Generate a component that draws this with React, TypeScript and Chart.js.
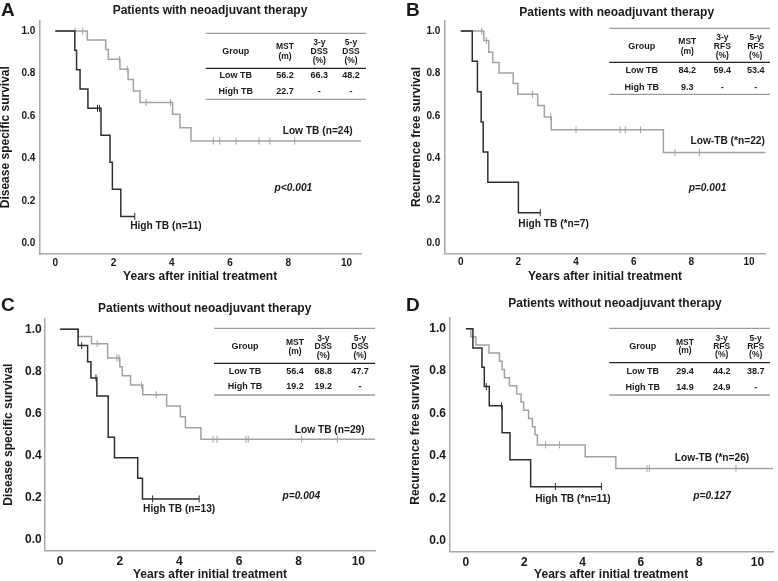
import React, { useEffect, useRef } from 'react';
import { Chart, registerables } from 'chart.js';

Chart.register(...registerables);

const FONT = "Arial, 'Liberation Sans', Helvetica, sans-serif";
const DARK = '#2e2e2e';
const GRAY = '#a2a2a2';
const AXIS = '#a8a8a8';
const TEXT = '#1a1a1a';

const X_TICKS = [0, 2, 4, 6, 8, 10];
const Y_TICKS = [0, 0.2, 0.4, 0.6, 0.8, 1.0];

// ---- Panel A: DSS, with neoadjuvant therapy ----
const A_LOW_T = [0, 1.1, 1.73, 1.82, 2.22, 2.5, 2.68, 2.91, 4.03, 4.28, 4.66, 10.5];
const A_LOW_S = [1, 0.958, 0.913, 0.867, 0.82, 0.772, 0.718, 0.663, 0.608, 0.545, 0.482, 0.482];
const A_LOW_CENSOR = [0.68, 0.94, 2.2, 2.47, 3.12, 3.96, 5.43, 5.65, 6.21, 7.0, 7.37, 8.22];
const A_HIGH_T = [0, 0.67, 0.73, 0.85, 1.12, 1.57, 1.88, 1.96, 2.25, 2.73];
const A_HIGH_S = [1, 0.909, 0.818, 0.727, 0.636, 0.509, 0.382, 0.255, 0.127, 0.127];
const A_HIGH_CENSOR = [1.45, 1.52, 2.73];

// ---- Panel B: RFS, with neoadjuvant therapy ----
const B_LOW_T = [0, 0.8, 0.97, 1.11, 1.33, 1.82, 1.98, 2.67, 2.9, 3.14, 7.03, 10.58];
const B_LOW_S = [1, 0.955, 0.9, 0.852, 0.802, 0.752, 0.702, 0.648, 0.594, 0.534, 0.427, 0.427];
const B_LOW_CENSOR = [0.73, 0.89, 2.49, 3.12, 4.0, 5.53, 5.71, 6.24, 7.43, 8.28];
const B_HIGH_T = [0, 0.4, 0.58, 0.71, 0.78, 0.94, 2.0, 2.76];
const B_HIGH_S = [1, 0.857, 0.714, 0.571, 0.429, 0.286, 0.143, 0.143];
const B_HIGH_CENSOR = [2.76];

// ---- Panel C: DSS, without neoadjuvant therapy ----
const C_LOW_T = [0, 0.6, 1.05, 1.59, 2.0, 2.08, 2.36, 2.77, 3.57, 4.03, 4.2, 4.72, 10.56];
const C_LOW_S = [1, 0.966, 0.932, 0.864, 0.822, 0.78, 0.736, 0.69, 0.636, 0.585, 0.533, 0.478, 0.478];
const C_LOW_CENSOR = [1.24, 1.9, 1.97, 2.73, 3.22, 5.13, 5.26, 6.23, 6.31, 8.1, 9.3];
const C_HIGH_T = [0, 0.6, 0.92, 1.03, 1.23, 1.61, 1.82, 2.6, 2.76, 4.66];
const C_HIGH_S = [1, 0.923, 0.846, 0.769, 0.684, 0.488, 0.39, 0.293, 0.195, 0.195];
const C_HIGH_CENSOR = [0.72, 1.2, 3.1, 4.66];

// ---- Panel D: RFS, without neoadjuvant therapy ----
const D_LOW_T = [0, 0.17, 0.34, 0.79, 1.15, 1.24, 1.32, 1.49, 1.74, 1.89, 1.98, 2.15, 2.28, 2.37, 2.45, 4.09, 5.14, 10.53];
const D_LOW_S = [1, 0.962, 0.923, 0.885, 0.846, 0.808, 0.769, 0.731, 0.692, 0.654, 0.615, 0.577, 0.538, 0.5, 0.452, 0.396, 0.341, 0.341];
const D_LOW_CENSOR = [2.73, 3.21, 6.21, 6.29, 9.26];
const D_HIGH_T = [0, 0.24, 0.55, 0.63, 0.8, 1.24, 1.51, 2.22, 4.65];
const D_HIGH_S = [1, 0.909, 0.818, 0.727, 0.636, 0.509, 0.382, 0.255, 0.255];
const D_HIGH_CENSOR = [0.7, 1.22, 3.07, 4.65];

// ---- tables ----
const TABLE_GROUPS = ['Low TB', 'High TB'];
const DSS_HEADER = ['Group', ['MST', '(m)'], ['3-y', 'DSS', '(%)'], ['5-y', 'DSS', '(%)']];
const RFS_HEADER = ['Group', ['MST', '(m)'], ['3-y', 'RFS', '(%)'], ['5-y', 'RFS', '(%)']];
const A_TABLE_ROWS = [['56.2', '66.3', '48.2'], ['22.7', '-', '-']];
const B_TABLE_ROWS = [['84.2', '59.4', '53.4'], ['9.3', '-', '-']];
const C_TABLE_ROWS = [['56.4', '68.8', '47.7'], ['19.2', '19.2', '-']];
const D_TABLE_ROWS = [['29.4', '44.2', '38.7'], ['14.9', '24.9', '-']];

type Pad = { left: number; top: number; right: number; bottom: number };
type Label = { text: string; x: number; y: number; italic?: boolean };
type Table = {
  x0: number; x1: number; top: number; mid: number; bot: number;
  cols: number[]; hMid: number; lh: number; rows: number[];
  header: any[]; values: string[][];
};
type Panel = {
  letter: string; letterX: number; letterY: number;
  title: string; titleX: number; titleY: number;
  yTitle: string; xMin: number; xMax: number;
  pad: Pad; yW: number; xH: number; tickSize: number; xTickPad: number; yTickPad: number;
  low: { t: number[]; s: number[]; c: number[] };
  high: { t: number[]; s: number[]; c: number[] };
  labels: Label[];
  table: Table;
};

const PANELS: Panel[] = [
  {
    letter: 'A', letterX: 1, letterY: 16,
    title: 'Patients with neoadjuvant therapy', titleX: 210, titleY: 10.5,
    yTitle: 'Disease specific survival', xMin: -0.55, xMax: 10.5,
    pad: { left: 0, top: 20.4, right: 417, bottom: 298 }, yW: 39.3, xH: 29,
    tickSize: 10, xTickPad: 3, yTickPad: 4,
    low: { t: A_LOW_T, s: A_LOW_S, c: A_LOW_CENSOR },
    high: { t: A_HIGH_T, s: A_HIGH_S, c: A_HIGH_CENSOR },
    labels: [
      { text: 'Low TB (n=24)', x: 9.01, y: 0.53 },
      { text: 'High TB (n=11)', x: 3.8, y: 0.083 },
      { text: 'p<0.001', x: 8.18, y: 0.262, italic: true },
    ],
    table: {
      x0: 205.7, x1: 366, top: 33.3, mid: 68.3, bot: 99.3,
      cols: [235.7, 285, 319.3, 351], hMid: 51.7, lh: 9.1, rows: [76, 91.7],
      header: DSS_HEADER, values: A_TABLE_ROWS,
    },
  },
  {
    letter: 'B', letterX: 406, letterY: 16,
    title: 'Patients with neoadjuvant therapy', titleX: 616.7, titleY: 12.3,
    yTitle: 'Recurrence free survival', xMin: -0.57, xMax: 10.58,
    pad: { left: 410.7, top: 20.4, right: 12.3, bottom: 298.3 }, yW: 33.6, xH: 29.1,
    tickSize: 10, xTickPad: 3, yTickPad: 4,
    low: { t: B_LOW_T, s: B_LOW_S, c: B_LOW_CENSOR },
    high: { t: B_HIGH_T, s: B_HIGH_S, c: B_HIGH_CENSOR },
    labels: [
      { text: 'Low-TB (*n=22)', x: 9.26, y: 0.478 },
      { text: 'High TB (*n=7)', x: 3.22, y: 0.09 },
      { text: 'p=0.001', x: 8.56, y: 0.258, italic: true },
    ],
    table: {
      x0: 609.3, x1: 770, top: 28.3, mid: 62.3, bot: 94.3,
      cols: [641.7, 687.3, 722.3, 755.7], hMid: 46.7, lh: 9.3, rows: [71, 87.3],
      header: RFS_HEADER, values: B_TABLE_ROWS,
    },
  },
  {
    letter: 'C', letterX: 1, letterY: 311,
    title: 'Patients without neoadjuvant therapy', titleX: 204.7, titleY: 308.3,
    yTitle: 'Disease specific survival', xMin: -0.51, xMax: 10.56,
    pad: { left: 2.7, top: 318.8, right: 403, bottom: 0 }, yW: 42.3, xH: 30.5,
    tickSize: 12, xTickPad: 4, yTickPad: 3.3,
    low: { t: C_LOW_T, s: C_LOW_S, c: C_LOW_CENSOR },
    high: { t: C_HIGH_T, s: C_HIGH_S, c: C_HIGH_CENSOR },
    labels: [
      { text: 'Low TB (n=29)', x: 9.04, y: 0.522 },
      { text: 'High TB (n=13)', x: 3.99, y: 0.146 },
      { text: 'p=0.004', x: 8.09, y: 0.209, italic: true },
    ],
    table: {
      x0: 214, x1: 375, top: 328.3, mid: 363.3, bot: 395,
      cols: [245, 295, 323.3, 360], hMid: 347, lh: 8.5, rows: [371.7, 386.7],
      header: DSS_HEADER, values: C_TABLE_ROWS,
    },
  },
  {
    letter: 'D', letterX: 406, letterY: 311,
    title: 'Patients without neoadjuvant therapy', titleX: 615, titleY: 304,
    yTitle: 'Recurrence free survival', xMin: -0.57, xMax: 10.53,
    pad: { left: 409.3, top: 318.1, right: 1.3, bottom: 0 }, yW: 40, xH: 29.7,
    tickSize: 12, xTickPad: 4, yTickPad: 3.3,
    low: { t: D_LOW_T, s: D_LOW_S, c: D_LOW_CENSOR },
    high: { t: D_HIGH_T, s: D_HIGH_S, c: D_HIGH_CENSOR },
    labels: [
      { text: 'Low-TB (*n=26)', x: 8.44, y: 0.389 },
      { text: 'High TB (*n=11)', x: 3.67, y: 0.195 },
      { text: 'p=0.127', x: 8.44, y: 0.208, italic: true },
    ],
    table: {
      x0: 609.3, x1: 770, top: 328.3, mid: 362.7, bot: 395,
      cols: [642.7, 685, 721.7, 755.7], hMid: 346.7, lh: 8.3, rows: [371.7, 387.3],
      header: RFS_HEADER, values: D_TABLE_ROWS,
    },
  },
];

function curvePoints(t: number[], s: number[]) {
  return t.map((x, i) => ({ x, y: s[i] }));
}

function valueAt(t: number[], s: number[], x: number) {
  let v = s[0];
  for (let i = 0; i < t.length; i++) if (t[i] <= x) v = s[i];
  return v;
}

function censorPoints(t: number[], s: number[], c: number[]) {
  return c.map((x) => ({ x, y: valueAt(t, s, x) }));
}

function makeAnnotPlugin(p: Panel) {
  return {
    id: 'annot' + p.letter,
    afterDraw(chart: any) {
      const ctx = chart.ctx as CanvasRenderingContext2D;
      const xs = chart.scales.x;
      const ys = chart.scales.y;
      ctx.save();
      ctx.fillStyle = TEXT;
      // panel letter
      ctx.font = `bold 19px ${FONT}`;
      ctx.textAlign = 'left';
      ctx.textBaseline = 'alphabetic';
      ctx.fillText(p.letter, p.letterX, p.letterY);
      // title
      ctx.font = `bold 12px ${FONT}`;
      ctx.textAlign = 'center';
      ctx.textBaseline = 'middle';
      ctx.fillText(p.title, p.titleX, p.titleY);
      // curve labels and p value
      for (const l of p.labels) {
        ctx.font = `${l.italic ? 'italic ' : ''}bold 10.2px ${FONT}`;
        ctx.fillText(l.text, xs.getPixelForValue(l.x), ys.getPixelForValue(l.y));
      }
      // table
      const t = p.table;
      ctx.lineWidth = 1.3;
      ctx.strokeStyle = '#9a9a9a';
      ctx.beginPath();
      ctx.moveTo(t.x0, t.top); ctx.lineTo(t.x1, t.top);
      ctx.moveTo(t.x0, t.bot); ctx.lineTo(t.x1, t.bot);
      ctx.stroke();
      ctx.strokeStyle = '#222';
      ctx.beginPath();
      ctx.moveTo(t.x0, t.mid); ctx.lineTo(t.x1, t.mid);
      ctx.stroke();
      ctx.font = `bold 8.5px ${FONT}`;
      t.header.forEach((h: any, i: number) => {
        const lines: string[] = Array.isArray(h) ? h : [h];
        const n = lines.length;
        lines.forEach((txt, j) => {
          const y = t.hMid + (j - (n - 1) / 2) * t.lh;
          ctx.font = `bold ${i === 0 ? 9 : 8.5}px ${FONT}`;
          ctx.fillText(txt, t.cols[i], y);
        });
      });
      ctx.font = `bold 9px ${FONT}`;
      TABLE_GROUPS.forEach((g, r) => {
        ctx.fillText(g, t.cols[0], t.rows[r]);
        t.values[r].forEach((v, c) => ctx.fillText(v, t.cols[c + 1], t.rows[r]));
      });
      ctx.restore();
    },
  };
}

function makeConfig(p: Panel): any {
  const tickFont = { family: FONT, size: p.tickSize, weight: 'bold' as const };
  const titleFont = { family: FONT, size: 12, weight: 'bold' as const, lineHeight: 1 };
  return {
    type: 'scatter',
    data: {
      datasets: [
        {
          label: 'High TB',
          data: curvePoints(p.high.t, p.high.s),
          showLine: true, stepped: 'before', borderColor: DARK, borderWidth: 1.5,
          pointRadius: 0, fill: false,
        },
        {
          label: 'High TB censored',
          data: censorPoints(p.high.t, p.high.s, p.high.c),
          showLine: false, pointStyle: 'line', rotation: 90, pointRadius: 3.5,
          borderColor: DARK, backgroundColor: DARK, pointBorderWidth: 1,
        },
        {
          label: 'Low TB',
          data: curvePoints(p.low.t, p.low.s),
          showLine: true, stepped: 'before', borderColor: GRAY, borderWidth: 1.5,
          pointRadius: 0, fill: false,
        },
        {
          label: 'Low TB censored',
          data: censorPoints(p.low.t, p.low.s, p.low.c),
          showLine: false, pointStyle: 'line', rotation: 90, pointRadius: 3.5,
          borderColor: GRAY, backgroundColor: GRAY, pointBorderWidth: 1,
        },
      ],
    },
    options: {
      responsive: false,
      animation: false,
      devicePixelRatio: 1,
      events: [],
      layout: { padding: p.pad },
      plugins: { legend: { display: false }, tooltip: { enabled: false }, title: { display: false } },
      scales: {
        x: {
          type: 'linear', min: p.xMin, max: p.xMax,
          afterBuildTicks: (s: any) => { s.ticks = X_TICKS.map((v) => ({ value: v })); },
          afterFit: (s: any) => { s.height = p.xH; },
          grid: { display: false, drawTicks: false },
          border: { display: true, color: AXIS, width: 1.5 },
          ticks: { font: tickFont, color: TEXT, padding: p.xTickPad, maxRotation: 0, autoSkip: false },
          title: { display: true, text: 'Years after initial treatment', font: titleFont, color: TEXT, padding: 0 },
        },
        y: {
          type: 'linear', min: -0.05, max: 1.05,
          afterBuildTicks: (s: any) => { s.ticks = Y_TICKS.map((v) => ({ value: v })); },
          afterFit: (s: any) => { s.width = p.yW; },
          grid: { display: false, drawTicks: false },
          border: { display: true, color: AXIS, width: 1.5 },
          ticks: {
            font: tickFont, color: TEXT, padding: p.yTickPad, autoSkip: false,
            callback: (v: any) => Number(v).toFixed(1),
          },
          title: { display: true, text: p.yTitle, font: titleFont, color: TEXT, padding: 0 },
        },
      },
    },
    plugins: [makeAnnotPlugin(p)],
  };
}

function KMPanel({ panel }: { panel: Panel }) {
  const ref = useRef<HTMLCanvasElement>(null);
  useEffect(() => {
    const chart = new Chart(ref.current as HTMLCanvasElement, makeConfig(panel));
    return () => chart.destroy();
  }, [panel]);
  return (
    <canvas
      ref={ref}
      width={778}
      height={581}
      style={{ position: 'absolute', left: 0, top: 0, width: 778, height: 581 }}
    />
  );
}

export default function App() {
  return (
    <div
      style={{
        position: 'fixed', left: 0, top: 0, width: 778, height: 581,
        background: '#ffffff', overflow: 'hidden',
      }}
    >
      {PANELS.map((p) => (
        <KMPanel key={p.letter} panel={p} />
      ))}
    </div>
  );
}
